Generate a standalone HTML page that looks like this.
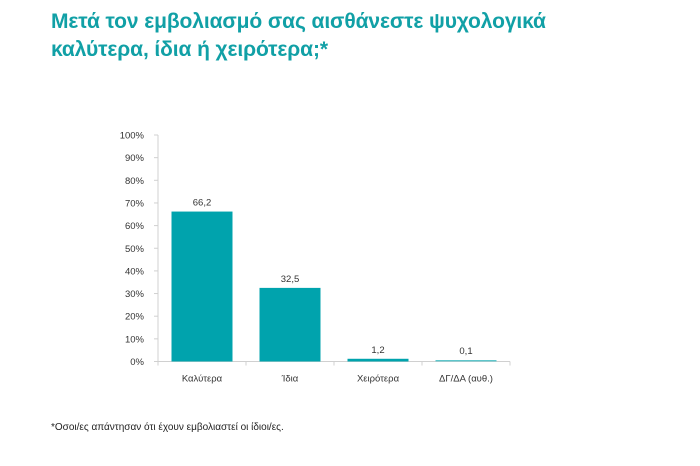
<!DOCTYPE html>
<html><head><meta charset="utf-8"><style>
body{margin:0;width:700px;height:466px;background:#fff;font-family:"Liberation Sans",sans-serif;position:relative;overflow:hidden}
#title{position:absolute;left:51px;top:8px;color:#11a0a6;font-size:21px;font-weight:bold;line-height:28px;letter-spacing:-0.1px}
#note{position:absolute;left:51px;top:422px;font-size:10px;color:#222}
svg{position:absolute;left:0;top:0}
text{font-family:"Liberation Sans",sans-serif;fill:#333}
</style></head><body>
<div id="title">Μετά τον εμβολιασμό σας αισθάνεστε ψυχολογικά<br>καλύτερα, ίδια ή χειρότερα;*</div>
<div id="note">*Οσοι/ες απάντησαν ότι έχουν εμβολιαστεί οι ίδιοι/ες.</div>
<svg id="chart" width="700" height="466"></svg>
<script>
const categories=["Καλύτερα","Ίδια","Χειρότερα","ΔΓ/ΔΑ (αυθ.)"];
const values=[66.2,32.5,1.2,0.1];
const labels=["66,2","32,5","1,2","0,1"];
const ticks=[0,10,20,30,40,50,60,70,80,90,100];
const colors=["#00a3ad","#00a3ad","#00a3ad","#5fc6cb"];
const svg=document.getElementById('chart'),NS="http://www.w3.org/2000/svg";
const x0=158,x1=510,y0=361.5,y1=135;
const y=v=>y0-(v/100)*(y0-y1);
const step=(x1-x0)/categories.length;
const xc=i=>x0+step*(i+0.5);
function mk(t,a){const e=document.createElementNS(NS,t);for(const k in a)e.setAttribute(k,a[k]);svg.appendChild(e);return e;}
let ax=mk('line',{x1:x0,y1:y1,x2:x0,y2:y0,stroke:'#d0d0d0'});


let bx=mk('line',{x1:x0,y1:y0,x2:x1,y2:y0,stroke:'#d0d0d0'});


ticks.forEach(t=>{
 mk('line',{x1:x0-4,y1:y(t),x2:x0,y2:y(t),stroke:'#d0d0d0'});
 const tx=mk('text',{x:x0-14,y:y(t)+3.5,'font-size':9.5,'text-anchor':'end'});tx.textContent=t+'%';
 
 
});
for(let i=0;i<=categories.length;i++)mk('line',{x1:x0+step*i,y1:y0,x2:x0+step*i,y2:y0+4,stroke:'#d0d0d0'});
categories.forEach((c,i)=>{
 const h=Math.max(y0-y(values[i]),1.5);
 const r=mk('rect',{x:xc(i)-30.5,y:y0-h,width:61,height:h,fill:colors[i]});
 
 
 const v=mk('text',{x:xc(i),y:y0-h-6,'font-size':9.5,'text-anchor':'middle'});v.textContent=labels[i];
 
 
 const l=mk('text',{x:xc(i),y:y0+20,'font-size':9.5,'text-anchor':'middle'});l.textContent=c;
 
 
});
</script>
</body></html>
